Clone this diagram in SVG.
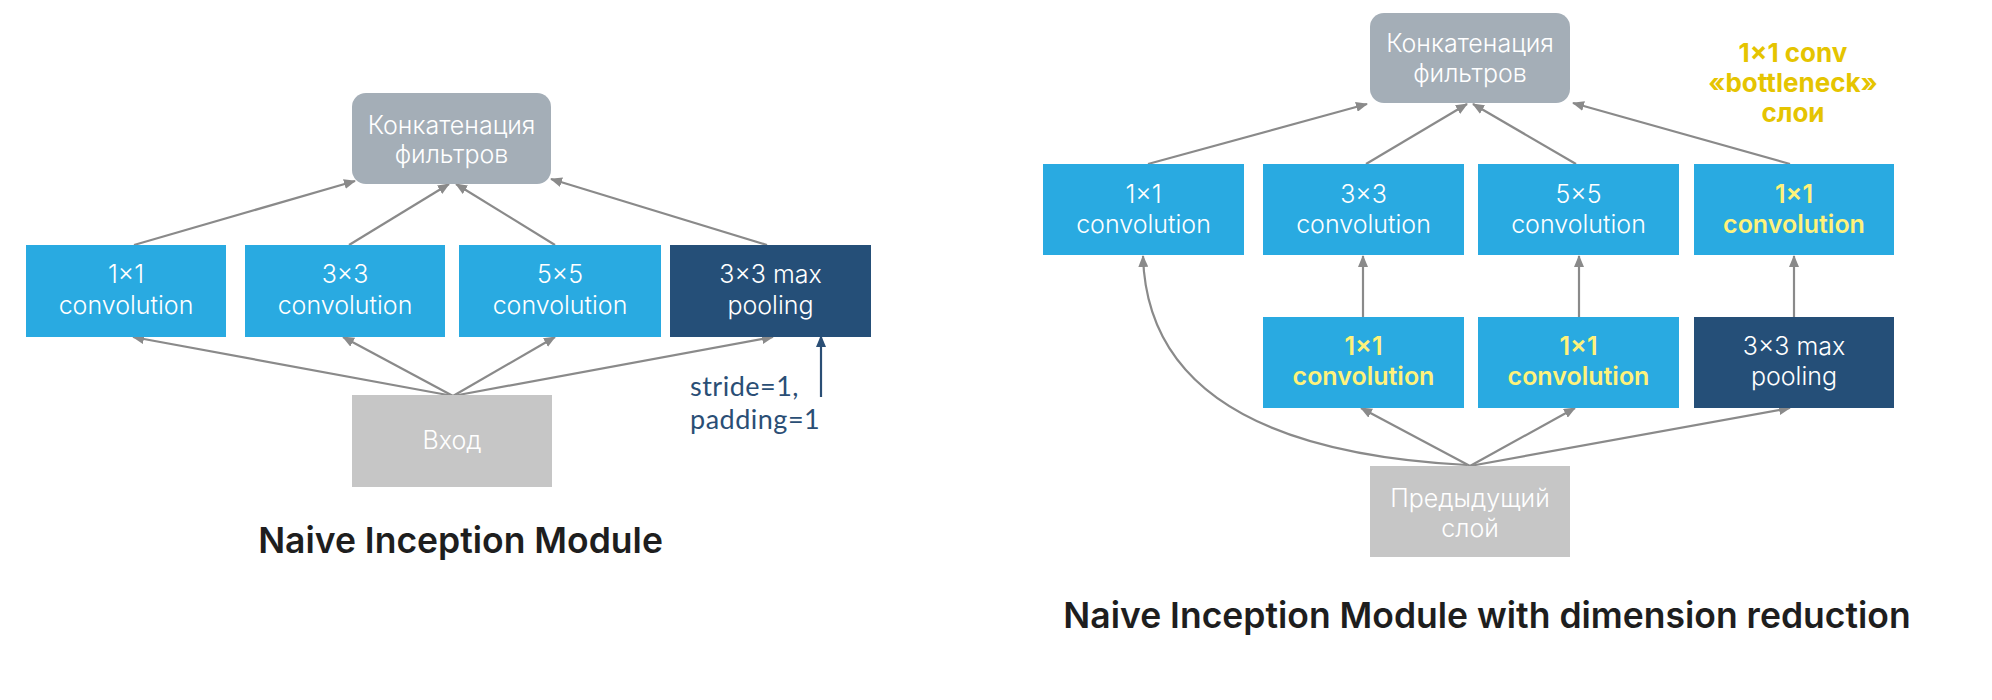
<svg xmlns="http://www.w3.org/2000/svg" width="1992" height="700" viewBox="0 0 1992 700">
<defs>
<style>
.lb{fill:#29aae1}
.db{fill:#254f78}
.cc{fill:#a4aeb7}
.in{fill:#c6c6c6}
.t{font-family:Inter,"Noto Sans",sans-serif;font-weight:300;font-size:25px;fill:#ffffff;text-anchor:middle}
.ty{font-family:Inter,"Noto Sans",sans-serif;font-weight:600;font-size:25px;fill:#fff27a;text-anchor:middle}
.lab{font-family:Inter,"Noto Sans",sans-serif;font-weight:700;font-size:26px;fill:#e5c400;text-anchor:middle}
.st{font-family:Lato,"Open Sans",sans-serif;font-size:27px;letter-spacing:0.5px;fill:#2a4e75}
.title{font-family:Inter,"Noto Sans",sans-serif;font-weight:600;font-size:35.5px;fill:#1e1e1e;text-anchor:middle}
.c{fill:none;stroke:#8a8a8a;stroke-width:2.2;marker-end:url(#ah)}
.cd{fill:none;stroke:#2a4e75;stroke-width:2.2;marker-end:url(#ahd)}
</style>
<marker id="ah" markerUnits="userSpaceOnUse" markerWidth="12" markerHeight="10" refX="11" refY="5" orient="auto">
<path d="M0,0 L12,5 L0,10 z" fill="#8a8a8a"/>
</marker>
<marker id="ahd" markerUnits="userSpaceOnUse" markerWidth="12" markerHeight="10" refX="11" refY="5" orient="auto">
<path d="M0,0 L12,5 L0,10 z" fill="#2a4e75"/>
</marker>
</defs>
<rect width="1992" height="700" fill="#ffffff"/>

<g id="connectors">
<path class="c" d="M453,396 L133,337"/>
<path class="c" d="M453,396 L343,337"/>
<path class="c" d="M453,396 L555,337"/>
<path class="c" d="M453,396 L773,337"/>
<path class="c" d="M134,245 L355,181"/>
<path class="c" d="M349,245 L449,184"/>
<path class="c" d="M555,245 L456,184"/>
<path class="c" d="M767,245 L551,179"/>
<path class="cd" d="M821,397 L821,336"/>
<path class="c" d="M1148,164 L1367,104"/>
<path class="c" d="M1366,164 L1467,104"/>
<path class="c" d="M1576,164 L1473,104"/>
<path class="c" d="M1790,164 L1573,103"/>
<path class="c" d="M1363,317 L1363,256"/>
<path class="c" d="M1579,317 L1579,256"/>
<path class="c" d="M1794,317 L1794,256"/>
<path class="c" d="M1470,466 L1361,408"/>
<path class="c" d="M1470,466 L1575,408"/>
<path class="c" d="M1470,466 L1790,408"/>
<path class="c" d="M1467,465 C1180,450 1145,330 1143,256"/>
</g>

<g id="concat-left">
<rect class="cc" x="352" y="93" width="199" height="91" rx="14"/>
<text class="t" x="451.5" y="134">Конкатенация</text>
<text class="t" x="451.5" y="163">фильтров</text>
</g>
<g id="conv1-left">
<rect class="lb" x="26" y="245" width="200" height="92"/>
<text class="t" x="126" y="283">1×1</text>
<text class="t" x="126" y="314">convolution</text>
</g>
<g id="conv3-left">
<rect class="lb" x="245" y="245" width="200" height="92"/>
<text class="t" x="345" y="283">3×3</text>
<text class="t" x="345" y="314">convolution</text>
</g>
<g id="conv5-left">
<rect class="lb" x="459" y="245" width="202" height="92"/>
<text class="t" x="560" y="283">5×5</text>
<text class="t" x="560" y="314">convolution</text>
</g>
<g id="pool-left">
<rect class="db" x="670" y="245" width="201" height="92"/>
<text class="t" x="770.5" y="283">3×3 max</text>
<text class="t" x="770.5" y="314">pooling</text>
</g>
<g id="input-left">
<rect class="in" x="352" y="395" width="200" height="92"/>
<text class="t" x="452" y="449">Вход</text>
</g>
<g id="stride-label">
<text class="st" x="690" y="396">stride=1,</text>
<text class="st" x="690" y="429">padding=1</text>
</g>
<text class="title" x="460.5" y="553">Naive Inception Module</text>

<g id="concat-right">
<rect class="cc" x="1370" y="13" width="200" height="90" rx="14"/>
<text class="t" x="1470" y="52">Конкатенация</text>
<text class="t" x="1470" y="82">фильтров</text>
</g>
<g id="bottleneck-label">
<text class="lab" x="1793" y="62">1×1 conv</text>
<text class="lab" x="1793" y="92">«bottleneck»</text>
<text class="lab" x="1793" y="122">слои</text>
</g>
<g id="conv1-right">
<rect class="lb" x="1043" y="164" width="201" height="91"/>
<text class="t" x="1143.5" y="203">1×1</text>
<text class="t" x="1143.5" y="233">convolution</text>
</g>
<g id="conv3-right">
<rect class="lb" x="1263" y="164" width="201" height="91"/>
<text class="t" x="1363.5" y="203">3×3</text>
<text class="t" x="1363.5" y="233">convolution</text>
</g>
<g id="conv5-right">
<rect class="lb" x="1478" y="164" width="201" height="91"/>
<text class="t" x="1578.5" y="203">5×5</text>
<text class="t" x="1578.5" y="233">convolution</text>
</g>
<g id="conv1b-right">
<rect class="lb" x="1694" y="164" width="200" height="91"/>
<text class="ty" x="1794" y="203">1×1</text>
<text class="ty" x="1794" y="233">convolution</text>
</g>
<g id="reduce3-right">
<rect class="lb" x="1263" y="317" width="201" height="91"/>
<text class="ty" x="1363.5" y="355">1×1</text>
<text class="ty" x="1363.5" y="385">convolution</text>
</g>
<g id="reduce5-right">
<rect class="lb" x="1478" y="317" width="201" height="91"/>
<text class="ty" x="1578.5" y="355">1×1</text>
<text class="ty" x="1578.5" y="385">convolution</text>
</g>
<g id="pool-right">
<rect class="db" x="1694" y="317" width="200" height="91"/>
<text class="t" x="1794" y="355">3×3 max</text>
<text class="t" x="1794" y="385">pooling</text>
</g>
<g id="prev-right">
<rect class="in" x="1370" y="466" width="200" height="91"/>
<text class="t" x="1470" y="507">Предыдущий</text>
<text class="t" x="1470" y="537">слой</text>
</g>
<text class="title" x="1487" y="628">Naive Inception Module with dimension reduction</text>
</svg>
